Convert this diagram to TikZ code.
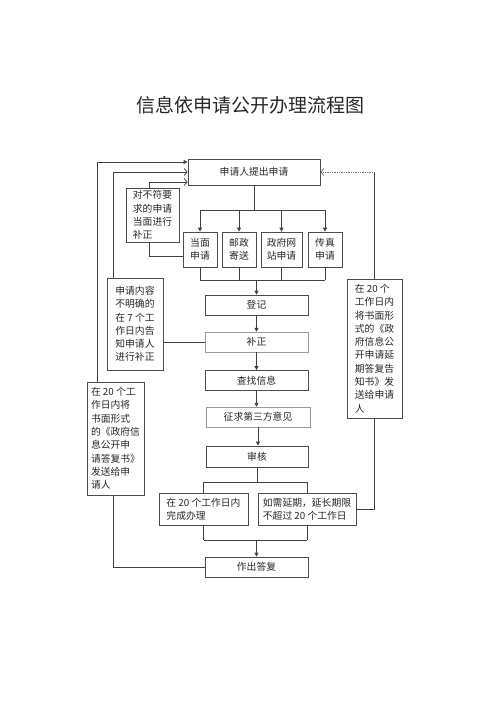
\documentclass[tikz,border=0pt]{standalone}
\usepackage{fontspec}
\setmainfont{Noto Sans CJK SC}
\usetikzlibrary{arrows.meta}

\tikzset{
	box/.style = {draw = black!70, rectangle, line width = 0.75pt, inner sep = 2pt, text = black!85, font = \fontsize{9.8}{13.3}\selectfont},
	lightbox/.style = {box, draw = black!40, line width = 0.5pt},
	link/.style = {draw = black!75, line width = 0.75pt},
	arr/.style = {link, -{Triangle[length = 4pt, width = 4pt]}},
	barb/.style = {link, -{Straight Barb[length = 3pt, width = 7pt]}}
}

\begin{document}
\begin{tikzpicture}[x = 1pt, y = -1pt]
\useasboundingbox (0,0) rectangle (500,707);

\node[text = black!85, font = \fontsize{19}{19}\selectfont] (title) at (250, 105) {信息依申请公开办理流程图};

\node[box, minimum width = 132, minimum height = 26] (apply) at (254, 172) {申请人提出申请};

\foreach \name/\x/\w/\txt in {face/200/34/当面\\申请, post/239/34/邮政\\寄送, web/281.5/41/政府网\\站申请, fax/325/34/传真\\申请}
	\node[box, align = center, minimum width = \w, minimum height = 35] (\name) at (\x, 249.5) {\txt};

\node[box, align = left, minimum width = 53, minimum height = 54] (correct) at (152.5, 215) {对不符要\\求的申请\\当面进行\\补正};

\node[box, minimum width = 103, minimum height = 20] (reg) at (256.5, 305) {登记};
\node[lightbox, minimum width = 103, minimum height = 20] (supp) at (256.5, 342) {补正};
\node[box, minimum width = 103, minimum height = 20] (search) at (256.5, 380.5) {查找信息};
\node[lightbox, minimum width = 104, minimum height = 20] (third) at (258, 417) {征求第三方意见};
\node[box, minimum width = 102, minimum height = 21] (review) at (257, 456.5) {审核};

\node[box, align = left, minimum width = 89, minimum height = 32] (intime) at (203.5, 509) {在 20 个工作日内\\完成办理};
\node[box, align = left, minimum width = 98, minimum height = 32] (extend) at (307, 509) {如需延期，延长期限\\不超过 20 个工作日};
\node[box, minimum width = 103, minimum height = 20] (reply) at (256.5, 567) {作出答复};

\node[box, align = left, minimum width = 56, minimum height = 92] (unclear) at (135, 324) {申请内容\\不明确的\\在 7 个工\\作日内告\\知申请人\\进行补正};
\node[box, align = left, minimum width = 55, minimum height = 139] (delay) at (374.5, 348.5) {在 20 个\\工作日内\\将书面形\\式的《政\\府信息公\\开申请延\\期答复告\\知书》发\\送给申请\\人};
\node[box, align = left, minimum width = 57, minimum height = 113] (answer) at (115.5, 438.5) {在 20 个工\\作日内将\\书面形式\\的《政府信\\息公开申\\请答复书》\\发送给申\\请人};

\coordinate (split) at (254, 210);
\coordinate (join) at (254, 280);
\coordinate (fork) at (257, 482);
\coordinate (merge) at (257, 540);

\draw[link] (apply.south) -- (split);
\draw[link] (face.north |- split) -- (fax.north |- split);
\foreach \name in {face, post, web, fax} {
	\draw[arr] (\name.north |- split) -- (\name.north);
	\draw[link] (\name.south) -- (\name.south |- join);
}
\draw[link] (face.south |- join) -- (fax.south |- join);
\draw[arr] (reg.north |- join) -- (reg.north);

\draw[arr] (reg) -- (supp);
\draw[arr] (supp) -- (search);
\draw[arr] (search.south) -- (search.south |- third.north);
\draw[arr] (third.south) -- (third.south |- review.north);

\draw[link] (review.south) -- (fork);
\draw[link] (intime.north |- fork) -- (extend.north |- fork);
\draw[link] (intime.north |- fork) -- (intime.north);
\draw[link] (extend.north |- fork) -- (extend.north);
\draw[link] (intime.south) -- (intime.south |- merge);
\draw[link] (extend.south) -- (extend.south |- merge);
\draw[link] (intime.south |- merge) -- (extend.south |- merge);
\draw[arr] (reply.north |- merge) -- (reply.north);

\draw[link] ([yshift = -7pt]face.west) -| ([xshift = -3.5pt]correct.south);
\draw[barb] ([xshift = -3.5pt]correct.north) |- ([yshift = -10pt]apply.west);
\draw[link] (unclear.east |- supp.west) -- (supp.west);
\draw[barb] ([xshift = -22pt]unclear.north) |- (apply.west);
\draw[arr] ([xshift = -18.5pt]answer.north) |- ([yshift = 10pt]apply.west);
\draw[link] ([xshift = -2.5pt]answer.south) |- (reply.west);

\draw[link] (delay.north) -- (delay.north |- apply.east);
\draw[barb, draw = black!55, densely dotted] (delay.north |- apply.east) -- (apply.east);
\draw[link] (delay.south) |- (extend.east);

\end{tikzpicture}
\end{document}
